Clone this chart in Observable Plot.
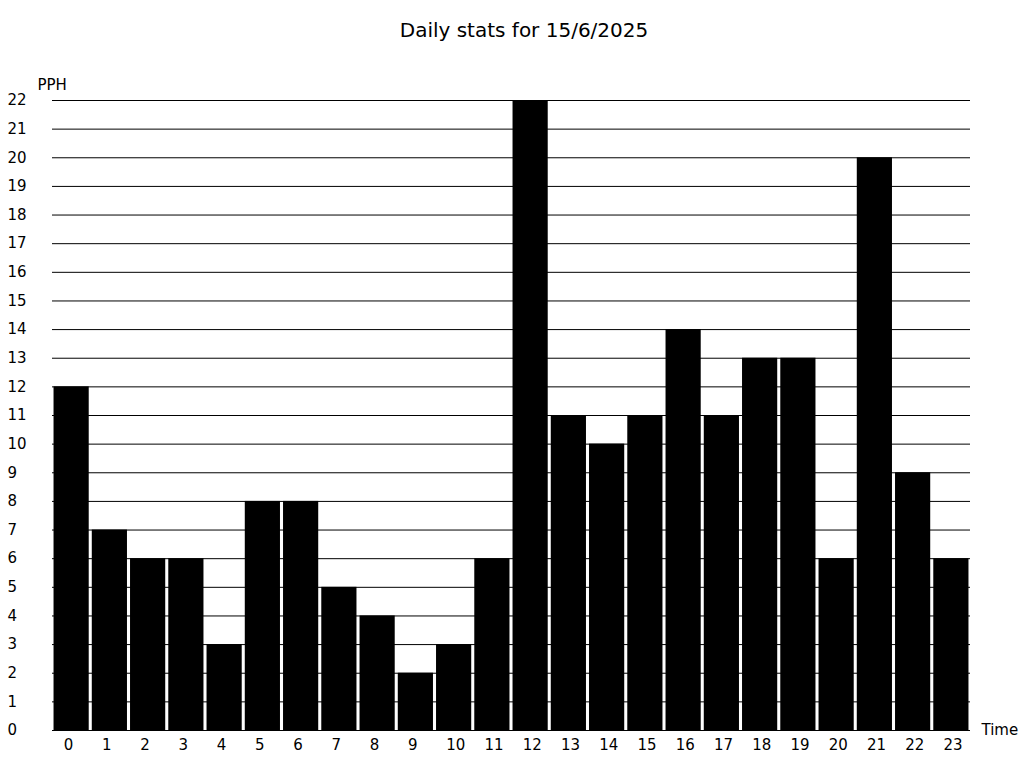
<!DOCTYPE html>
<html>
<head>
<meta charset="utf-8">
<script src="https://cdn.jsdelivr.net/npm/d3@7"></script>
<script src="https://cdn.jsdelivr.net/npm/@observablehq/plot@0.6"></script>
<style>
  html, body { margin: 0; padding: 0; background: #fff; }
  #title { height: 60px; line-height: 60px; text-align: center; padding-left: 24px; font-family: "DejaVu Sans", sans-serif; font-size: 20px; color: #000; }
  svg { display: block; }
</style>
</head>
<body>
<div id="title">Daily stats for 15/6/2025</div>
<div id="chart"></div>
<script>
const hours = ["0","1","2","3","4","5","6","7","8","9","10","11","12","13","14","15","16","17","18","19","20","21","22","23"];
const pph = [12,7,6,6,3,8,8,5,4,2,3,6,22,11,10,11,14,11,13,13,6,20,9,6];
const yTicks = d3.range(0, 23);
const yLabel = "PPH";
const xLabel = "Time";

const data = hours.map((h, i) => ({hour: h, value: pph[i]}));

const chart = Plot.plot({
  width: 1024,
  height: 708,
  marginTop: 40,
  marginBottom: 38,
  marginLeft: 52,
  marginRight: 54,
  style: {fontFamily: "DejaVu Sans, sans-serif", fontSize: "15px", color: "#000", background: "#fff"},
  x: {type: "band", domain: hours, paddingInner: 0.08, paddingOuter: 0.04, round: false, label: null},
  y: {domain: [0, 22], ticks: yTicks, label: null},
  marks: [
    Plot.gridY(yTicks, {stroke: "#000", strokeOpacity: 1, strokeWidth: 1, shapeRendering: "geometricPrecision"}),
    Plot.barY(data, {x: "hour", y: "value", fill: "#000"}),
    Plot.ruleY([0], {stroke: "#000"}),
    Plot.axisY({ticks: yTicks, tickSize: 0, tickPadding: 45, textAnchor: "start", label: null, fontSize: 15}),
    Plot.axisX({tickSize: 0, tickPadding: 9, textAnchor: "start", dx: -8, label: null, fontSize: 15}),
    Plot.text([yLabel], {frameAnchor: "top-left", dx: -15, dy: -21, textAnchor: "start", fontSize: 15}),
    Plot.text([xLabel], {frameAnchor: "bottom-right", dx: 11, dy: 4, textAnchor: "start", fontSize: 15})
  ]
});
document.getElementById("chart").appendChild(chart);
</script>
</body>
</html>
